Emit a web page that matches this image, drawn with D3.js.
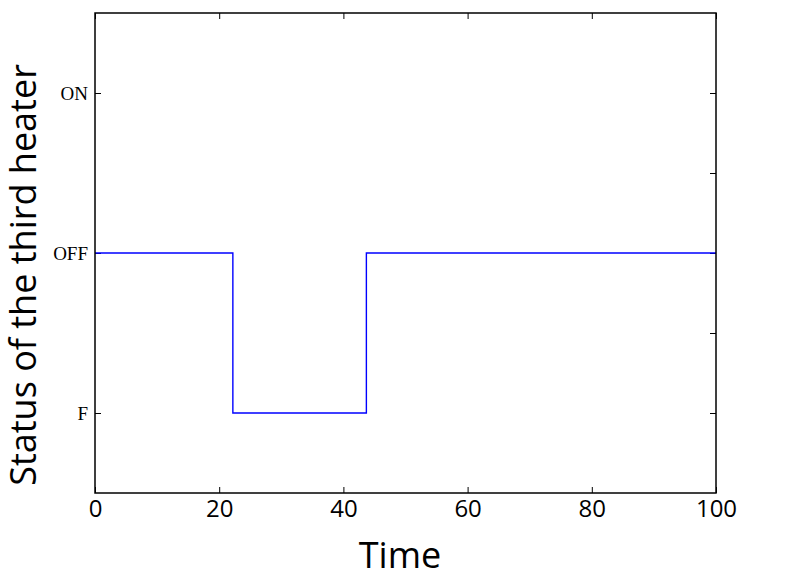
<!DOCTYPE html>
<html lang="en">
<head>
    <meta charset="UTF-8">
    <script src="https://d3js.org/d3.v7.min.js"></script>
    <title>Status of the third heater</title>
    <style>
        body { margin: 0; background-color: white; }
        .xtick text { font-family: "Open Sans", sans-serif; font-size: 24px; }
        .ytick text { font-family: "Liberation Serif", serif; font-size: 19px; }
    </style>
</head>
<body>
    <div id="chart"></div>
    <script>
        // step data: heater status over time
        const timePoints = [0, 22.2, 43.7, 100];
        const statusValues = [0, -1, 0, 0];

        const xTicks = [0, 20, 40, 60, 80, 100];
        const yTickValues = [-1, 0, 1];
        const yTickLabels = ["F", "OFF", "ON"];
        const yMinorTicks = [-1, -0.5, 0, 0.5, 1];

        const data = timePoints.map((t, i) => ({ t: t, s: statusValues[i] }));

        const margin = { top: 13, right: 84, bottom: 87, left: 95 };
        const width = 800 - margin.left - margin.right;
        const height = 580 - margin.top - margin.bottom;

        const svg = d3.select("#chart")
            .append("svg")
            .attr("width", 800)
            .attr("height", 580);

        const g = svg.append("g")
            .attr("transform", "translate(" + margin.left + "," + margin.top + ")");

        const x = d3.scaleLinear().domain([0, 100]).range([0, width]);
        const y = d3.scaleLinear().domain([-1.5, 1.5]).range([height, 0]);

        // bottom axis with labels, inward ticks
        const xAxis = g.append("g")
            .attr("class", "xtick")
            .attr("transform", "translate(0," + height + ")")
            .call(d3.axisBottom(x).tickValues(xTicks).tickSizeInner(-6).tickSizeOuter(0).tickPadding(7));
        xAxis.select(".domain").remove();
        xAxis.selectAll("line").attr("stroke", "#000");
        xAxis.selectAll("text").attr("fill", "#000");

        // top axis, ticks only
        const xTop = g.append("g")
            .call(d3.axisTop(x).tickValues(xTicks).tickSizeInner(-6).tickSizeOuter(0).tickFormat(""));
        xTop.select(".domain").remove();

        // left axis with text labels
        const yAxis = g.append("g")
            .attr("class", "ytick")
            .call(d3.axisLeft(y).tickValues(yTickValues)
                .tickFormat((d, i) => yTickLabels[i])
                .tickSizeInner(-6).tickSizeOuter(0).tickPadding(7));
        yAxis.select(".domain").remove();
        yAxis.selectAll("text").attr("fill", "#000");

        // right axis, ticks only
        const yRight = g.append("g")
            .attr("transform", "translate(" + width + ",0)")
            .call(d3.axisRight(y).tickValues(yMinorTicks).tickSizeInner(-6).tickSizeOuter(0).tickFormat(""));
        yRight.select(".domain").remove();

        const line = d3.line()
            .x(d => x(d.t))
            .y(d => y(d.s))
            .curve(d3.curveStepAfter);

        g.append("path")
            .datum(data)
            .attr("fill", "none")
            .attr("stroke", "blue")
            .attr("stroke-width", 1.4)
            .attr("d", line);

        // frame
        g.append("rect")
            .attr("width", width)
            .attr("height", height)
            .attr("fill", "none")
            .attr("stroke", "#000")
            .attr("stroke-width", 1.5);

        g.append("text")
            .attr("x", 305)
            .attr("y", 555)
            .attr("text-anchor", "middle")
            .attr("font-family", "Open Sans, sans-serif")
            .attr("font-size", 36)
            .text("Time");

        g.append("text")
            .attr("transform", "rotate(-90)")
            .attr("x", -262)
            .attr("y", -59)
            .attr("text-anchor", "middle")
            .attr("font-family", "Open Sans, sans-serif")
            .attr("font-size", 36)
            .text("Status of the third heater");
    </script>
</body>
</html>
